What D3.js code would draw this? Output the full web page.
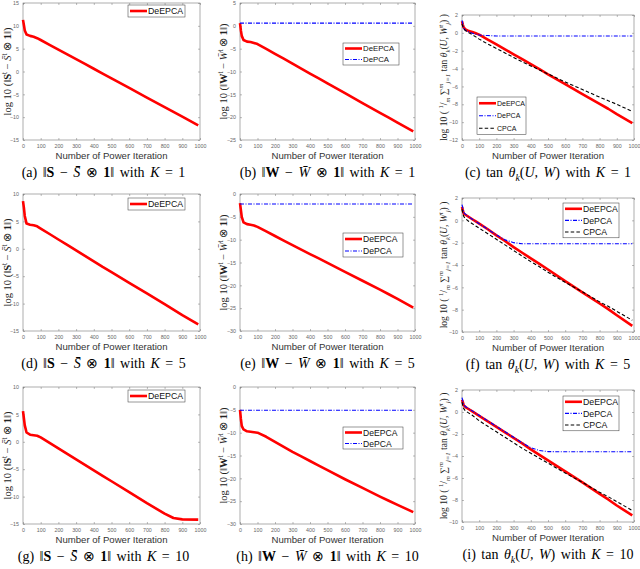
<!DOCTYPE html>
<html>
<head>
<meta charset="utf-8">
<script src="https://cdn.jsdelivr.net/npm/d3@7"></script>
<style>
  body { margin: 0; background: #fff; }
  svg { display: block; }
  .tick text { font-family: "Liberation Sans", Arial, sans-serif; }
</style>
</head>
<body>
<svg id="svg" width="640" height="569"></svg>
<script>
// iteration grid shared by the curves
const iterations = [0, 5, 10, 20, 40, 60, 80, 100, 150, 200, 250, 300, 350, 400, 450, 500, 600, 700, 800, 850, 900, 990];
const flatIterations = [0, 500, 990];
const xTicks = [0, 100, 200, 300, 400, 500, 600, 700, 800, 900, 1000];
const seriesNames = ['DeEPCA', 'DePCA', 'CPCA'];

// ||S - S_bar x 1||
const deepcaS_K1 = [11.3, 10.2, 9.0, 8.1, 7.8, 7.6, 7.3, 6.9, 5.85, 4.8, 3.75, 2.7, 1.65, 0.6, -0.45, -1.5, -3.6, -5.7, -7.8, -8.85, -9.9, -11.8];
const deepcaS_K5 = [8.7, 7.5, 6.0, 4.6, 4.4, 4.3, 4.1, 3.7, 2.7, 1.7, 0.7, -0.3, -1.3, -2.3, -3.3, -4.25, -6.2, -8.15, -10.1, -11.1, -12.1, -13.8];
const deepcaS_K10 = [5.6, 4.3, 3.0, 1.7, 1.3, 1.2, 1.1, 0.8, -0.2, -1.2, -2.2, -3.2, -4.2, -5.2, -6.2, -7.2, -9.2, -11.2, -13.1, -13.9, -14.15, -14.2];

// ||W - W_bar x 1||
const deepcaW_K1 = [0.6, -1.0, -2.2, -3.1, -3.45, -3.55, -3.75, -4.0, -5.05, -6.15, -7.2, -8.3, -9.35, -10.45, -11.5, -12.6, -14.75, -16.9, -19.05, -20.1, -21.2, -23.1];
const deepcaW_K5 = [-2.0, -3.5, -5.0, -6.2, -6.6, -6.75, -6.9, -7.2, -8.2, -9.2, -10.2, -11.2, -12.2, -13.15, -14.1, -15.1, -17.05, -19.0, -20.95, -21.95, -22.95, -24.9];
const deepcaW_K10 = [-5.0, -7.0, -8.5, -9.3, -9.7, -9.8, -9.9, -10.0, -10.9, -12.0, -13.1, -14.2, -15.2, -16.2, -17.2, -18.2, -20.2, -22.1, -24.0, -24.9, -25.8, -27.4];
const depcaW_K1 = [0.6, 0.6, 0.6];
const depcaW_K5 = [-2.2, -2.2, -2.2];
const depcaW_K10 = [-5.1, -5.1, -5.1];

// tan theta_k(U, W)
const deepcaT_K1 = [1.3, 0.9, 0.6, 0.4, 0.2, 0.1, -0.05, -0.2, -0.75, -1.3, -1.85, -2.4, -2.95, -3.5, -4.05, -4.65, -5.75, -6.85, -7.95, -8.5, -9.1, -10.1];
const depcaT_K1 = [1.4, 1.0, 0.5, 0.3, 0.1, -0.05, -0.15, -0.25, -0.3, -0.35, -0.35, -0.35, -0.35, -0.35, -0.35, -0.35, -0.35, -0.35, -0.35, -0.35, -0.35, -0.35];
const cpcaT_K1 = [1.0, 0.7, 0.45, 0.25, 0.0, -0.2, -0.45, -0.7, -1.25, -1.75, -2.25, -2.75, -3.25, -3.7, -4.15, -4.6, -5.5, -6.35, -7.2, -7.6, -8.0, -8.8];
const deepcaT_K5 = [1.2, 0.9, 0.6, 0.5, 0.3, 0.1, -0.1, -0.3, -0.8, -1.35, -1.85, -2.4, -2.9, -3.4, -3.9, -4.4, -5.45, -6.45, -7.45, -7.95, -8.5, -9.45];
const depcaT_K5 = [1.4, 1.1, 0.7, 0.55, 0.3, 0.1, -0.1, -0.3, -0.8, -1.3, -1.75, -2.0, -2.1, -2.1, -2.1, -2.1, -2.1, -2.1, -2.1, -2.1, -2.1, -2.1];
const cpcaT_K5 = [1.0, 0.6, 0.35, 0.15, -0.1, -0.3, -0.5, -0.7, -1.2, -1.7, -2.2, -2.7, -3.2, -3.7, -4.15, -4.65, -5.55, -6.4, -7.3, -7.7, -8.15, -8.95];
const deepcaT_K10 = [1.1, 0.9, 0.6, 0.45, 0.25, 0.05, -0.15, -0.35, -0.85, -1.35, -1.85, -2.35, -2.85, -3.4, -3.9, -4.4, -5.4, -6.4, -7.45, -7.95, -8.5, -9.4];
const depcaT_K10 = [1.3, 1.0, 0.65, 0.5, 0.3, 0.1, -0.1, -0.3, -0.8, -1.3, -1.8, -2.3, -2.8, -3.25, -3.5, -3.6, -3.62, -3.62, -3.62, -3.62, -3.62, -3.62];
const cpcaT_K10 = [0.9, 0.55, 0.3, 0.1, -0.1, -0.3, -0.55, -0.8, -1.3, -1.8, -2.3, -2.8, -3.3, -3.75, -4.2, -4.65, -5.55, -6.4, -7.3, -7.7, -8.15, -8.95];

const style = {
  DeEPCA: { color: '#ff0000', width: 2.6, dash: null },
  DePCA: { color: '#0000ff', width: 1.1, dash: '4,1.5,1,1.5' },
  CPCA: { color: '#000000', width: 1.1, dash: '3.5,2.2' }
};

const colX = [[23, 200], [240, 415], [462, 634]];
const rowY = [[[3, 140], [3, 140], [15, 140]], [[194, 331], [194, 331], [198, 332]], [[387, 524], [387, 524], [390, 522]]];
const Ks = [1, 5, 10];
const letters = [['a', 'b', 'c'], ['d', 'e', 'f'], ['g', 'h', 'i']];

const sLabel = [['log 10 (', ''], ['‖', ''], ['S', 'b'], ['t', '^'], [' − ', ''], ['S̄', 'i'], ['t', '^'], [' ⊗ ', ''], ['1', 'b'], ['‖', ''], [')', '']];
const wLabel = [['log 10 (', ''], ['‖', ''], ['W', 'b'], ['t', '^'], [' − ', ''], ['W̄', 'i'], ['t', '^'], [' ⊗ ', ''], ['1', 'b'], ['‖', ''], [')', '']];
const tLabel = [['log 10 ( ', ''], ['1', '^'], ['/', ''], ['m', 'i_'], [' ∑', ''], ['m', 'i^'], ['j=1', 'i_'], [' tan ', ''], ['θ', 'i'], ['k', 'i_'], ['(', ''], ['U, W', 'i'], ['t', 'i^'], ['j', 'i_'], [') )', '']];

// legend: x, y, width, row height, font size
const panels = [
  { yDomain: [-15, 15], yStep: 5, ylab: sLabel, lines: [['DeEPCA', iterations, deepcaS_K1]], legend: [128, 5, 57, 12, 8.8] },
  { yDomain: [-25, 5], yStep: 5, ylab: wLabel, lines: [['DeEPCA', iterations, deepcaW_K1], ['DePCA', flatIterations, depcaW_K1]], legend: [343, 43, 56, 11, 7.8] },
  { yDomain: [-12, 2], yStep: 2, ylab: tLabel, lines: [['DeEPCA', iterations, deepcaT_K1], ['DePCA', iterations, depcaT_K1], ['CPCA', iterations, cpcaT_K1]], legend: [477, 97, 49, 12.5, 7] },
  { yDomain: [-15, 10], yStep: 5, ylab: sLabel, lines: [['DeEPCA', iterations, deepcaS_K5]], legend: [128, 198, 57, 12, 8.8] },
  { yDomain: [-30, 0], yStep: 5, ylab: wLabel, lines: [['DeEPCA', iterations, deepcaW_K5], ['DePCA', flatIterations, depcaW_K5]], legend: [343, 233, 60, 12, 8.6] },
  { yDomain: [-10, 2], yStep: 2, ylab: tLabel, lines: [['DeEPCA', iterations, deepcaT_K5], ['DePCA', iterations, depcaT_K5], ['CPCA', iterations, cpcaT_K5]], legend: [563, 203, 56, 11.6, 8.7] },
  { yDomain: [-15, 10], yStep: 5, ylab: sLabel, lines: [['DeEPCA', iterations, deepcaS_K10]], legend: [128, 390, 57, 12, 8.8] },
  { yDomain: [-30, 0], yStep: 5, ylab: wLabel, lines: [['DeEPCA', iterations, deepcaW_K10], ['DePCA', flatIterations, depcaW_K10]], legend: [343, 427, 60, 11, 8.6] },
  { yDomain: [-10, 2], yStep: 2, ylab: tLabel, lines: [['DeEPCA', iterations, deepcaT_K10], ['DePCA', iterations, depcaT_K10], ['CPCA', iterations, cpcaT_K10]], legend: [563, 396, 56, 11.6, 8.8] }
];

const svg = d3.select('#svg');
const serif = '"Liberation Serif", "Times New Roman", serif';
const sans = '"Liberation Sans", Arial, sans-serif';

// draws a list of [text, flags] pieces as tspans, flags: b bold, i italic, ^ sup, _ sub
const richText = (sel, segs, size) => {
  let shift = 0;
  segs.forEach(([txt, fl]) => {
    const target = fl.includes('^') ? -size * 0.38 : fl.includes('_') ? size * 0.28 : 0;
    const t = sel.append('tspan').attr('dy', target - shift).text(txt);
    shift = target;
    if (fl.includes('^') || fl.includes('_')) t.attr('font-size', size * 0.7);
    if (fl.includes('b')) t.attr('font-weight', 'bold');
    if (fl.includes('i')) t.attr('font-style', 'italic');
  });
};

panels.forEach((p, idx) => {
  const r = Math.floor(idx / 3), c = idx % 3;
  const [x0, x1] = colX[c];
  const [y0, y1] = rowY[r][c];
  const x = d3.scaleLinear().domain([0, 1000]).range([x0, x1]);
  const y = d3.scaleLinear().domain(p.yDomain).range([y1, y0]);
  const yTicks = d3.range(p.yDomain[0], p.yDomain[1] + 0.01, p.yStep);
  const g = svg.append('g');

  g.append('rect').attr('x', x0).attr('y', y0).attr('width', x1 - x0).attr('height', y1 - y0)
    .attr('fill', '#fff').attr('stroke', '#777').attr('stroke-width', 0.6);

  const axisStyle = (a) => {
    a.select('.domain').remove();
    a.selectAll('.tick line').attr('stroke', '#777').attr('stroke-width', 0.5);
    a.selectAll('.tick text').attr('fill', '#666').attr('font-size', 5.3);
  };

  g.append('g').attr('transform', `translate(0,${y1})`)
    .call(d3.axisBottom(x).tickValues(xTicks).tickSizeInner(-2).tickSizeOuter(0).tickPadding(4).tickFormat(d3.format('d')))
    .call(axisStyle);
  g.append('g').attr('transform', `translate(0,${y0})`)
    .call(d3.axisTop(x).tickValues(xTicks).tickSizeInner(-2).tickSizeOuter(0).tickFormat(''))
    .call(axisStyle);
  g.append('g').attr('transform', `translate(${x0},0)`)
    .call(d3.axisLeft(y).tickValues(yTicks).tickSizeInner(-2).tickSizeOuter(0).tickPadding(4))
    .call(axisStyle);
  g.append('g').attr('transform', `translate(${x1},0)`)
    .call(d3.axisRight(y).tickValues(yTicks).tickSizeInner(-2).tickSizeOuter(0).tickFormat(''))
    .call(axisStyle);

  const line = d3.line().x((d) => x(d[0])).y((d) => y(d[1]));
  p.lines.forEach(([name, xs, ys]) => {
    const s = style[name];
    g.append('path').datum(xs.map((v, i) => [v, ys[i]]))
      .attr('d', line).attr('fill', 'none')
      .attr('stroke', s.color).attr('stroke-width', s.width)
      .attr('stroke-dasharray', s.dash)
      .attr('stroke-linejoin', 'round');
  });

  // legend
  const [lx, ly, lw, rowH, fs] = p.legend;
  const lg = g.append('g').attr('transform', `translate(${lx},${ly})`);
  lg.append('rect').attr('width', lw).attr('height', p.lines.length * rowH)
    .attr('fill', '#fff').attr('stroke', '#333').attr('stroke-width', 0.5);
  p.lines.forEach(([name], i) => {
    const s = style[name];
    const cy = rowH / 2 + i * rowH;
    lg.append('line').attr('x1', 2).attr('x2', 19).attr('y1', cy).attr('y2', cy)
      .attr('stroke', s.color).attr('stroke-width', s.width).attr('stroke-dasharray', s.dash);
    lg.append('text').attr('x', 20).attr('y', cy + fs * 0.36)
      .attr('font-family', sans).attr('font-size', fs)
      .attr('fill', '#111').text(name);
  });

  // x label
  g.append('text').attr('x', (x0 + x1) / 2).attr('y', y1 + 19)
    .attr('text-anchor', 'middle').attr('font-family', sans)
    .attr('font-size', 9.6).attr('fill', '#333').text('Number of Power Iteration');

  // y label
  const ylx = c === 0 ? x0 - 12 : c === 1 ? x0 - 13 : x0 - 15;
  const yfs = c === 2 ? 9.6 : 10.5;
  const yl = g.append('text').attr('transform', `translate(${ylx},${(y0 + y1) / 2}) rotate(-90)`)
    .attr('text-anchor', 'middle').attr('font-family', serif)
    .attr('font-size', yfs).attr('fill', '#222');
  richText(yl, p.ylab, yfs);

  // caption
  const cap = g.append('text').attr('x', (x0 + x1) / 2 + (c === 0 ? -8 : 0)).attr('y', y1 + 37)
    .attr('text-anchor', 'middle').attr('font-family', serif)
    .attr('font-size', 14).attr('fill', '#000').attr('word-spacing', 2);
  const L = letters[r][c];
  const capSegs = c === 2
    ? [[`(${L})  tan `, ''], ['θ', 'i'], ['k', 'i_'], ['(', ''], ['U, W', 'i'], [')  with ', ''], ['K', 'i'], [` = ${Ks[r]}`, '']]
    : [[`(${L})  ‖`, ''], [c === 0 ? 'S' : 'W', 'b'], [' − ', ''], [c === 0 ? 'S̄' : 'W̄', 'i'], [' ⊗ ', ''], ['1', 'b'], ['‖  with ', ''], ['K', 'i'], [` = ${Ks[r]}`, '']];
  richText(cap, capSegs, 14);
});
</script>
</body>
</html>
